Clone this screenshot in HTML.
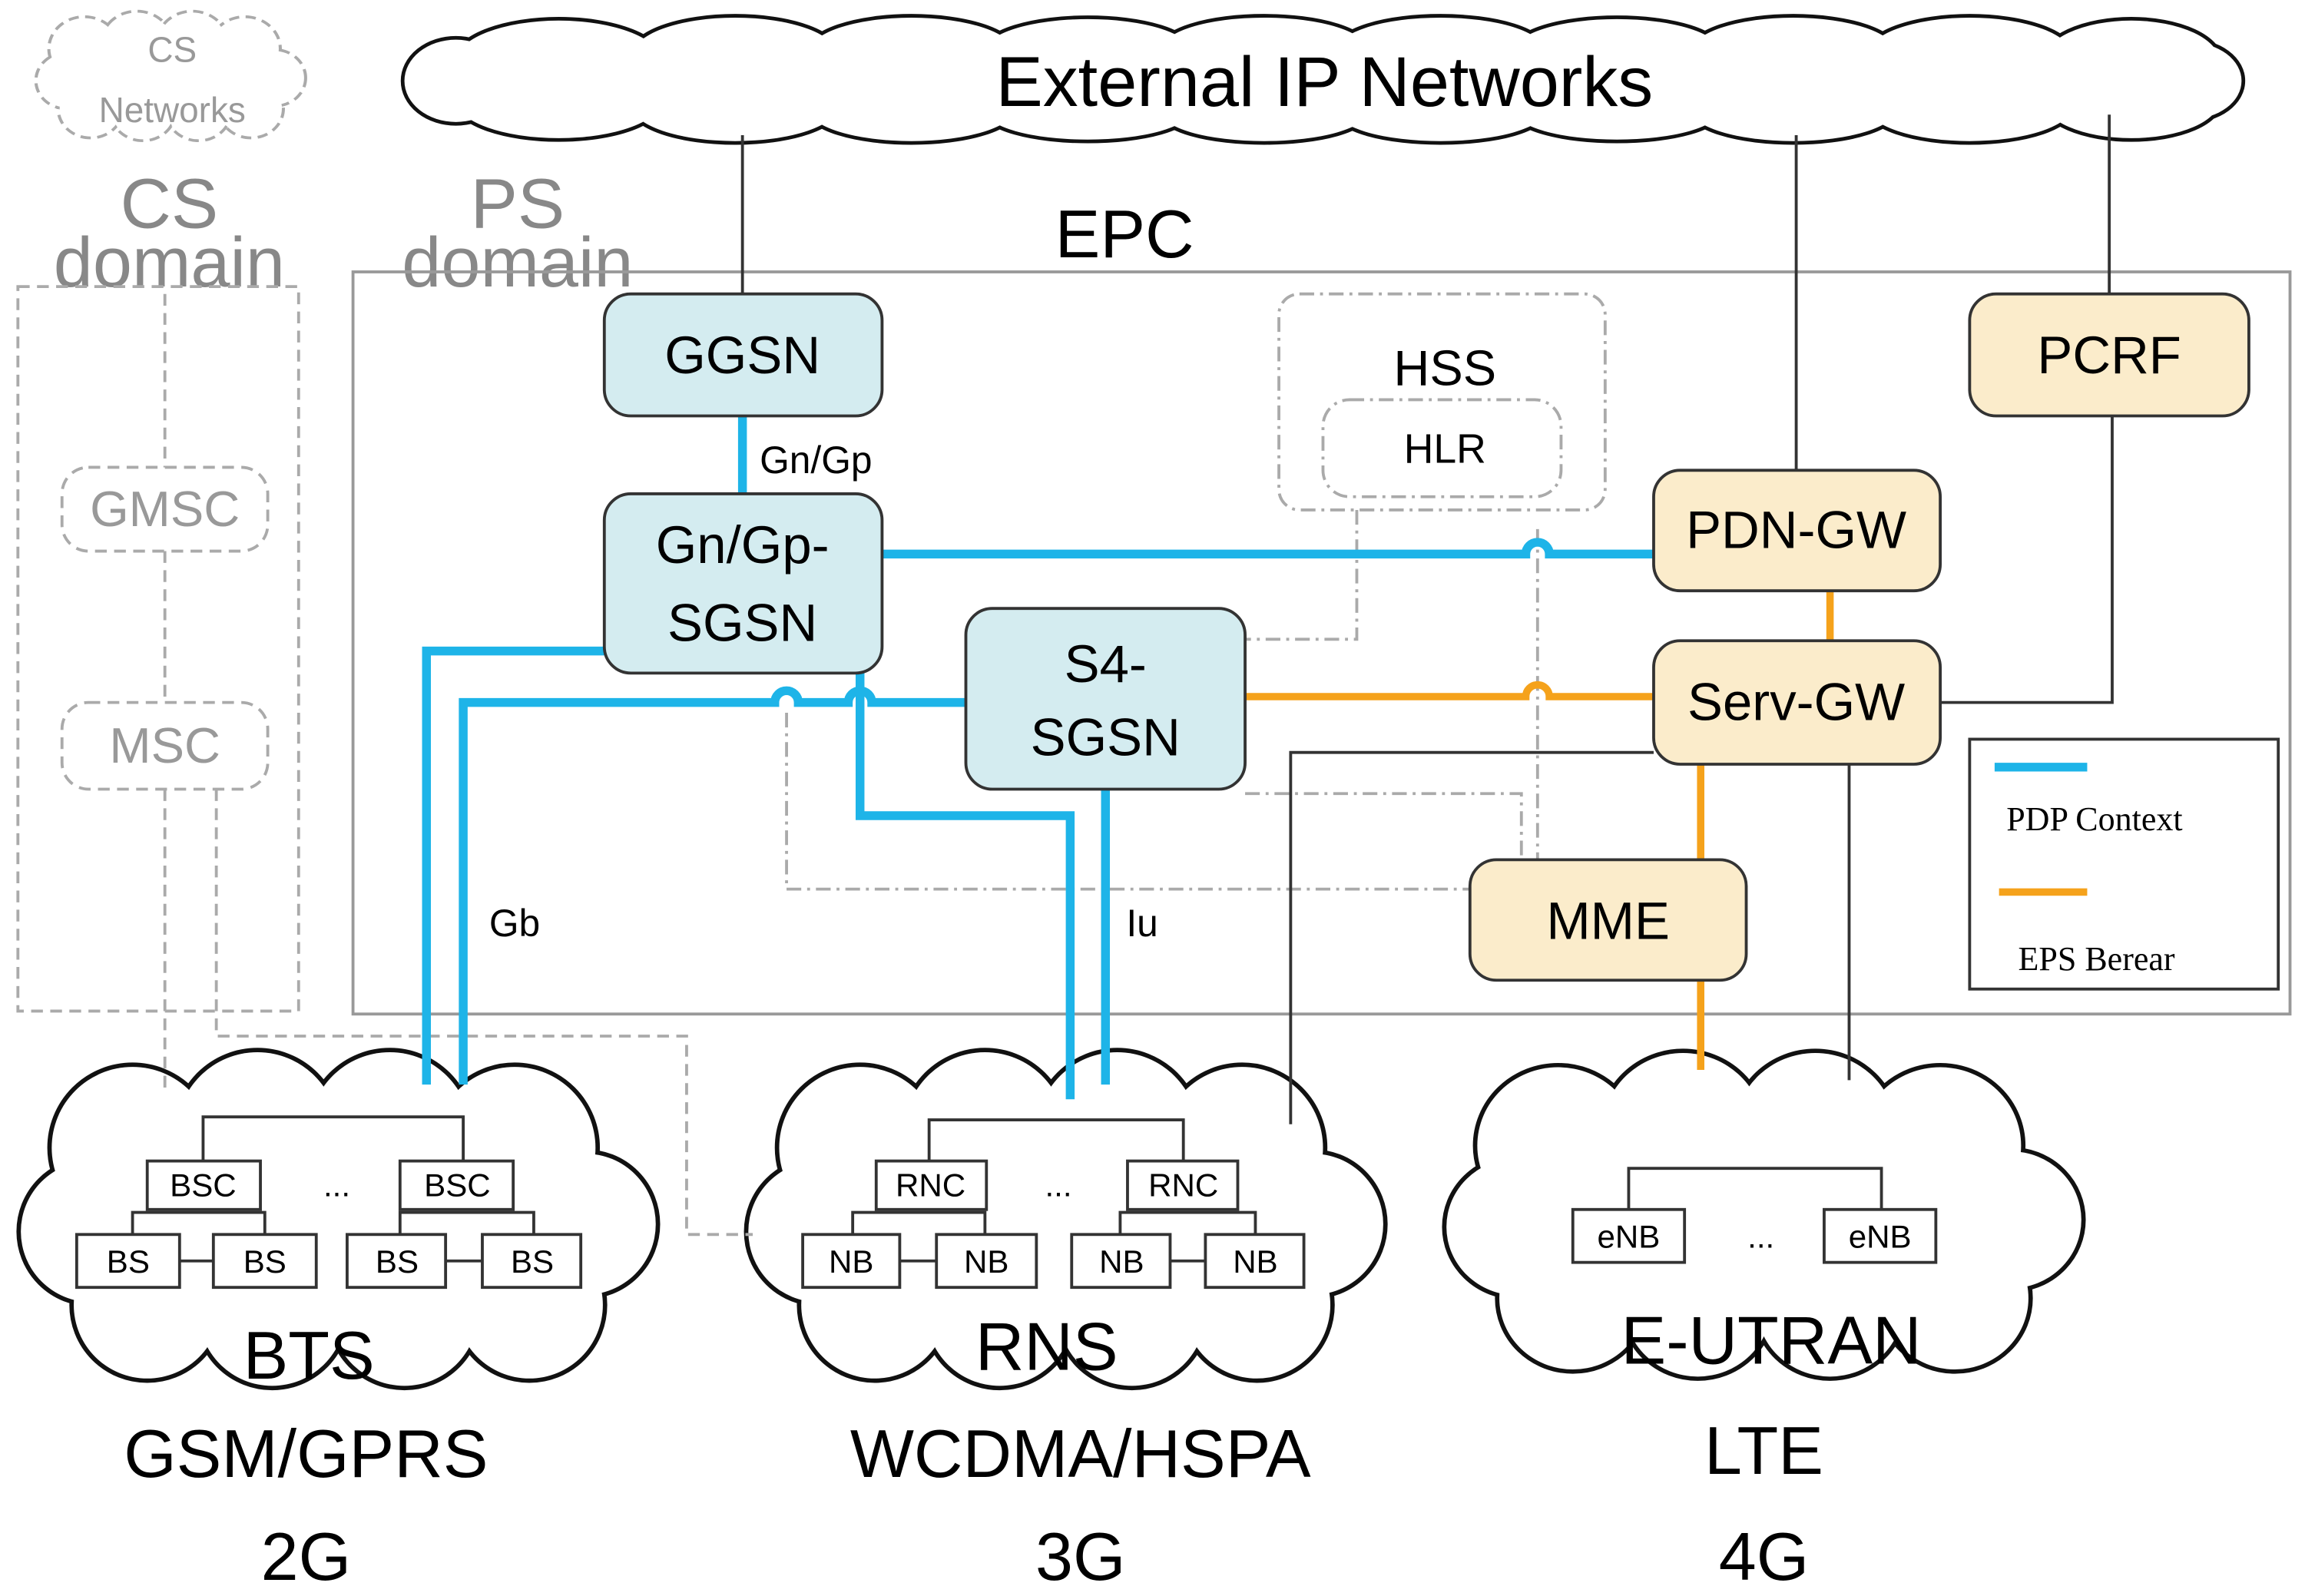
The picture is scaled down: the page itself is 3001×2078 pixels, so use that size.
<!DOCTYPE html>
<html><head><meta charset="utf-8"><style>
html,body{margin:0;padding:0;background:#fff;}
svg{display:block;}
text{font-family:"Liberation Sans","DejaVu Sans",sans-serif;}
</style></head><body>
<svg width="3001" height="2078" viewBox="0 0 1568 1086" xmlns="http://www.w3.org/2000/svg" xmlns:xlink="http://www.w3.org/1999/xlink">
<defs>
<g id="cc">
<circle cx="-140" cy="-52" r="55"/><circle cx="-55" cy="-62" r="55"/><circle cx="35" cy="-62" r="55"/><circle cx="120" cy="-52" r="55"/>
<circle cx="-168" cy="5" r="48"/><circle cx="168" cy="0" r="48"/>
<circle cx="-130" cy="55" r="50"/><circle cx="-45" cy="60" r="50"/><circle cx="45" cy="60" r="50"/><circle cx="130" cy="55" r="50"/>
<ellipse cx="0" cy="0" rx="170" ry="75"/>
</g>
<g id="tc">
<ellipse cx="310" cy="55" rx="35" ry="28"/>
<ellipse cx="380" cy="42" rx="70" ry="28"/><ellipse cx="500" cy="38" rx="70" ry="26"/><ellipse cx="620" cy="36" rx="70" ry="24"/><ellipse cx="740" cy="35" rx="70" ry="22"/><ellipse cx="860" cy="34" rx="70" ry="22"/><ellipse cx="980" cy="34" rx="70" ry="22"/><ellipse cx="1100" cy="35" rx="70" ry="22"/><ellipse cx="1220" cy="36" rx="70" ry="24"/><ellipse cx="1340" cy="38" rx="70" ry="26"/><ellipse cx="1450" cy="42" rx="60" ry="28"/>
<ellipse cx="1490" cy="55" rx="35" ry="26"/>
<ellipse cx="380" cy="68" rx="70" ry="26"/><ellipse cx="500" cy="72" rx="70" ry="24"/><ellipse cx="620" cy="74" rx="70" ry="22"/><ellipse cx="740" cy="75" rx="70" ry="20"/><ellipse cx="860" cy="76" rx="70" ry="20"/><ellipse cx="980" cy="76" rx="70" ry="20"/><ellipse cx="1100" cy="75" rx="70" ry="20"/><ellipse cx="1220" cy="74" rx="70" ry="22"/><ellipse cx="1340" cy="72" rx="70" ry="24"/><ellipse cx="1450" cy="68" rx="60" ry="26"/>
<rect x="320" y="40" width="1170" height="35"/>
</g>
</defs>
<!-- top cloud -->
<use xlink:href="#tc" href="#tc" fill="#fff" stroke="#111" stroke-width="5"/>
<use xlink:href="#tc" href="#tc" fill="#fff" stroke="none"/>
<!-- CS cloud -->
<g transform="translate(116,53) scale(0.42,0.38)">
<use xlink:href="#cc" href="#cc" fill="#fff" stroke="#aaa" stroke-width="10" stroke-dasharray="16,10"/>
<use xlink:href="#cc" href="#cc" fill="#fff" stroke="none"/>
</g>
<!-- bottom clouds -->
<g transform="translate(230,833)"><use xlink:href="#cc" href="#cc" fill="#fff" stroke="#111" stroke-width="6"/><use xlink:href="#cc" href="#cc" fill="#fff"/></g>
<g transform="translate(725,833)"><use xlink:href="#cc" href="#cc" fill="#fff" stroke="#111" stroke-width="6"/><use xlink:href="#cc" href="#cc" fill="#fff"/></g>
<g transform="translate(1200,830) scale(1,0.97)"><use xlink:href="#cc" href="#cc" fill="#fff" stroke="#111" stroke-width="6"/><use xlink:href="#cc" href="#cc" fill="#fff"/></g>

<text x="117" y="42" font-size="24" fill="#999" text-anchor="middle">CS</text>
<text x="117" y="83" font-size="24" fill="#999" text-anchor="middle">Networks</text>
<text x="901" y="72" font-size="48" text-anchor="middle">External IP Networks</text>
<text x="115" y="155" font-size="48" fill="#888" text-anchor="middle">CS</text>
<text x="115" y="195" font-size="48" fill="#888" text-anchor="middle">domain</text>
<text x="352" y="155" font-size="48" fill="#888" text-anchor="middle">PS</text>
<text x="352" y="195" font-size="48" fill="#888" text-anchor="middle">domain</text>
<text x="765" y="175" font-size="46" text-anchor="middle">EPC</text>
<rect x="240" y="185" width="1318" height="505" fill="none" stroke="#999" stroke-width="2"/>
<rect x="12" y="195" width="191" height="493" fill="none" stroke="#aaa" stroke-width="2" stroke-dasharray="8,5"/>
<g fill="none" stroke="#aaa" stroke-width="2" stroke-dasharray="8,5">
<line x1="112" y1="200" x2="112" y2="318"/><line x1="112" y1="375" x2="112" y2="478"/><line x1="112" y1="537" x2="112" y2="740"/>
<polyline points="147,537 147,705 467,705 467,840 512,840"/>
</g>
<rect x="42" y="318" width="140" height="57" rx="18" fill="#fff" stroke="#aaa" stroke-width="2" stroke-dasharray="8,5"/>
<text x="112" y="358" font-size="34" fill="#999" text-anchor="middle">GMSC</text>
<rect x="42" y="478" width="140" height="59" rx="18" fill="#fff" stroke="#aaa" stroke-width="2" stroke-dasharray="8,5"/>
<text x="112" y="519" font-size="34" fill="#999" text-anchor="middle">MSC</text>
<rect x="870" y="200" width="222" height="147" rx="14" fill="none" stroke="#aaa" stroke-width="2" stroke-dasharray="10,4,2,4"/>
<text x="983" y="262" font-size="34" text-anchor="middle">HSS</text>
<rect x="900" y="272" width="162" height="66" rx="18" fill="none" stroke="#aaa" stroke-width="2" stroke-dasharray="10,4,2,4"/>
<text x="983" y="315" font-size="28" text-anchor="middle">HLR</text>
<g fill="none" stroke="#aaa" stroke-width="2" stroke-dasharray="10,4,2,4">
<polyline points="923,347 923,435 847,435"/>
<line x1="1046" y1="360" x2="1046" y2="585"/>
<polyline points="535,485 535,605 1000,605"/>
<polyline points="847,540 1035,540 1035,585"/>
</g>
<g fill="none" stroke="#333" stroke-width="2">
<line x1="505" y1="92" x2="505" y2="200"/>
<line x1="1222" y1="92" x2="1222" y2="320"/>
<line x1="1435" y1="78" x2="1435" y2="200"/>
<polyline points="1437,283 1437,478 1320,478"/>
<line x1="1258" y1="520" x2="1258" y2="735"/>
<polyline points="1125,512 878,512 878,765"/>
</g>
<g fill="none" stroke="#1eb4e8" stroke-width="6">
<line x1="505" y1="283" x2="505" y2="336"/>
<path d="M600,377 H1038 a8,8 0 0 1 16,0 H1125"/>
<polyline points="411,443 290,443 290,738"/>
<path d="M657,478 H593 a8,8 0 0 0 -16,0 H543 a8,8 0 0 0 -16,0 H315 V738"/>
<polyline points="585,458 585,555 728,555 728,748"/>
<line x1="752" y1="537" x2="752" y2="738"/>
</g>
<g fill="none" stroke="#f5a21b" stroke-width="5">
<path d="M847,474 H1038 a8,8 0 0 1 16,0 H1125"/>
<line x1="1245" y1="402" x2="1245" y2="436"/>
<line x1="1157" y1="520" x2="1157" y2="585"/>
<line x1="1157" y1="667" x2="1157" y2="728"/>
</g>
<text x="555" y="322" font-size="26" text-anchor="middle">Gn/Gp</text>
<text x="350" y="637" font-size="26" text-anchor="middle">Gb</text>
<text x="777" y="637" font-size="26" text-anchor="middle">Iu</text>
<g stroke="#333" stroke-width="2">
<rect x="411" y="200" width="189" height="83" rx="18" fill="#d4ecf0"/>
<rect x="411" y="336" width="189" height="122" rx="18" fill="#d4ecf0"/>
<rect x="657" y="414" width="190" height="123" rx="18" fill="#d4ecf0"/>
<rect x="1340" y="200" width="190" height="83" rx="18" fill="#fbeccb"/>
<rect x="1125" y="320" width="195" height="82" rx="18" fill="#fbeccb"/>
<rect x="1125" y="436" width="195" height="84" rx="18" fill="#fbeccb"/>
<rect x="1000" y="585" width="188" height="82" rx="18" fill="#fbeccb"/>
</g>
<g font-size="36" text-anchor="middle">
<text x="505" y="254">GGSN</text>
<text x="505" y="383">Gn/Gp-</text>
<text x="505" y="436">SGSN</text>
<text x="752" y="464">S4-</text>
<text x="752" y="514">SGSN</text>
<text x="1435" y="254">PCRF</text>
<text x="1222" y="373">PDN-GW</text>
<text x="1222" y="490">Serv-GW</text>
<text x="1094" y="639">MME</text>
</g>
<rect x="1340" y="503" width="210" height="170" fill="#fff" stroke="#333" stroke-width="2"/>
<line x1="1357" y1="522" x2="1420" y2="522" stroke="#1eb4e8" stroke-width="6"/>
<text x="1365" y="565" font-size="23" style="font-family:'Liberation Serif',serif">PDP Context</text>
<line x1="1360" y1="607" x2="1420" y2="607" stroke="#f5a21b" stroke-width="5"/>
<text x="1373" y="660" font-size="23" style="font-family:'Liberation Serif',serif">EPS Berear</text>
<g fill="none" stroke="#333" stroke-width="2">
<polyline points="138,790 138,760 315,760 315,790"/>
<polyline points="90,840 90,825 180,825 180,840"/>
<polyline points="272,840 272,825 363,825 363,840"/>
<polyline points="632,790 632,762 805,762 805,790"/>
<polyline points="580,840 580,825 670,825 670,840"/>
<polyline points="762,840 762,825 854,825 854,840"/>
<polyline points="1108,823 1108,795 1280,795 1280,823"/>
<line x1="122" y1="858" x2="147" y2="858"/><line x1="303" y1="858" x2="330" y2="858"/>
<line x1="612" y1="858" x2="637" y2="858"/><line x1="794" y1="858" x2="820" y2="858"/>
</g>
<g stroke="#333" stroke-width="2" fill="#fff">
<rect x="100" y="790" width="77" height="33"/><rect x="272" y="790" width="77" height="33"/>
<rect x="52" y="840" width="70" height="36"/><rect x="145" y="840" width="70" height="36"/>
<rect x="236" y="840" width="67" height="36"/><rect x="328" y="840" width="67" height="36"/>
<rect x="596" y="790" width="75" height="33"/><rect x="767" y="790" width="75" height="33"/>
<rect x="546" y="840" width="66" height="36"/><rect x="637" y="840" width="68" height="36"/>
<rect x="729" y="840" width="67" height="36"/><rect x="820" y="840" width="67" height="36"/>
<rect x="1070" y="823" width="76" height="36"/><rect x="1241" y="823" width="76" height="36"/>
</g>
<g font-size="22" text-anchor="middle">
<text x="138" y="814">BSC</text><text x="311" y="814">BSC</text><text x="229" y="814">...</text>
<text x="87" y="866">BS</text><text x="180" y="866">BS</text><text x="270" y="866">BS</text><text x="362" y="866">BS</text>
<text x="633" y="814">RNC</text><text x="805" y="814">RNC</text><text x="720" y="814">...</text>
<text x="579" y="866">NB</text><text x="671" y="866">NB</text><text x="763" y="866">NB</text><text x="854" y="866">NB</text>
<text x="1108" y="849">eNB</text><text x="1279" y="849">eNB</text><text x="1198" y="849">...</text>
</g>
<g font-size="46" text-anchor="middle">
<text x="210" y="938">BTS</text><text x="208" y="1005">GSM/GPRS</text><text x="208" y="1075">2G</text>
<text x="712" y="932">RNS</text><text x="735" y="1005">WCDMA/HSPA</text><text x="735" y="1075">3G</text>
<text x="1205" y="928">E-UTRAN</text><text x="1200" y="1003">LTE</text><text x="1200" y="1075">4G</text>
</g>
</svg>
</body></html>
